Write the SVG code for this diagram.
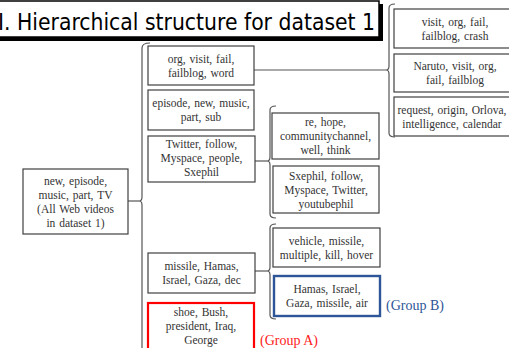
<svg xmlns="http://www.w3.org/2000/svg" width="509" height="348" viewBox="0 0 509 348">
<style>
.box{fill:#fff;stroke:#404040;stroke-width:1.2}
.t{font-family:"Liberation Serif","Times New Roman",serif;font-size:11.5px;fill:#333;text-anchor:middle;word-spacing:1px}
.c{fill:none;stroke:#555;stroke-width:1.2}
.g{font-family:"Liberation Serif","Times New Roman",serif;font-size:14px}
</style>
<rect width="509" height="348" fill="#fff"/>
<g id="title">
<rect x="-10" y="4" width="393" height="37" fill="#000"/>
<rect x="-12" y="1" width="391" height="36" fill="#fff" stroke="#000" stroke-width="1.5"/>
<text x="-2" y="30" font-family="DejaVu Sans,Verdana,sans-serif" font-size="23" textLength="377" lengthAdjust="spacingAndGlyphs" fill="#000">I. Hierarchical structure for dataset 1</text>
</g>
<g id="connectors">
<path class="c" d="M128 201 H139"/>
<path class="c" d="M150 43 Q142 43 142 48 V197 Q142 201 139 201 Q142 201 142 205 V352"/>
<path class="c" d="M254 70 H386"/>
<path class="c" d="M395 4 Q389 4 389 8 V66 Q389 70 386 70 Q389 70 389 74 V133 Q389 137 395 137"/>
<path class="c" d="M255 161 H267"/>
<path class="c" d="M276 106 Q270 106 270 110 V157 Q270 161 267 161 Q270 161 270 165 V214 Q270 218 276 218"/>
<path class="c" d="M255 271 H267"/>
<path class="c" d="M276 224 Q270 224 270 228 V267 Q270 271 267 271 Q270 271 270 275 V315 Q270 319 276 319"/>
</g>
<g id="root">
<rect class="box" x="23" y="169" width="105" height="65"/>
<text class="t" x="75.5" y="184.5">new, episode,</text>
<text class="t" x="75.5" y="198.5">music, part, TV</text>
<text class="t" x="75.5" y="212.5">(All Web videos</text>
<text class="t" x="75.5" y="226.5">in dataset 1)</text>
</g>
<g id="n1">
<rect class="box" x="148" y="46" width="106" height="39"/>
<text class="t" x="201" y="62.5">org, visit, fail,</text>
<text class="t" x="201" y="76.5">failblog, word</text>
</g>
<g id="n2">
<rect class="box" x="148" y="90" width="106" height="40"/>
<text class="t" x="201" y="107">episode, new, music,</text>
<text class="t" x="201" y="121">part, sub</text>
</g>
<g id="n3">
<rect class="box" x="148" y="136" width="107" height="46"/>
<text class="t" x="201.5" y="148">Twitter, follow,</text>
<text class="t" x="201.5" y="162">Myspace, people,</text>
<text class="t" x="201.5" y="176">Sxephil</text>
</g>
<g id="n4">
<rect class="box" x="148" y="253" width="107" height="40"/>
<text class="t" x="201.5" y="270">missile, Hamas,</text>
<text class="t" x="201.5" y="284">Israel, Gaza, dec</text>
</g>
<g id="n5">
<rect x="148" y="303" width="106" height="52" fill="#fff" stroke="#ff0000" stroke-width="2.2"/>
<text class="t" x="201" y="316">shoe, Bush,</text>
<text class="t" x="201" y="330">president, Iraq,</text>
<text class="t" x="201" y="344">George</text>
<text class="g" x="260" y="345" fill="#ff1a1a">(Group A)</text>
</g>
<g id="n6">
<rect class="box" x="272" y="113" width="107" height="46"/>
<text class="t" x="325.5" y="126">re, hope,</text>
<text class="t" x="325.5" y="140">communitychannel,</text>
<text class="t" x="325.5" y="154">well, think</text>
</g>
<g id="n7">
<rect class="box" x="273" y="166" width="106" height="47"/>
<text class="t" x="326" y="179.5">Sxephil, follow,</text>
<text class="t" x="326" y="193.5">Myspace, Twitter,</text>
<text class="t" x="326" y="207.5">youtubephil</text>
</g>
<g id="n8">
<rect class="box" x="273" y="228" width="107" height="39"/>
<text class="t" x="326.5" y="244.5">vehicle, missile,</text>
<text class="t" x="326.5" y="258.5">multiple, kill, hover</text>
</g>
<g id="n9">
<rect x="274" y="276" width="106" height="40" fill="#fff" stroke="#2e5597" stroke-width="2.4"/>
<text class="t" x="327" y="293">Hamas, Israel,</text>
<text class="t" x="327" y="307">Gaza, missile, air</text>
<text class="g" x="386" y="310" fill="#2e5597">(Group B)</text>
</g>
<g id="n10">
<rect class="box" x="394" y="9" width="122" height="39"/>
<text class="t" x="455" y="25.5">visit, org, fail,</text>
<text class="t" x="455" y="39.5">failblog, crash</text>
</g>
<g id="n11">
<rect class="box" x="394" y="54" width="122" height="38"/>
<text class="t" x="455" y="70">Naruto, visit, org,</text>
<text class="t" x="455" y="84">fail, failblog</text>
</g>
<g id="n12">
<rect class="box" x="394" y="97" width="122" height="39"/>
<text class="t" x="452" y="113.5">request, origin, Orlova,</text>
<text class="t" x="452" y="127.5">intelligence, calendar</text>
</g>
</svg>
